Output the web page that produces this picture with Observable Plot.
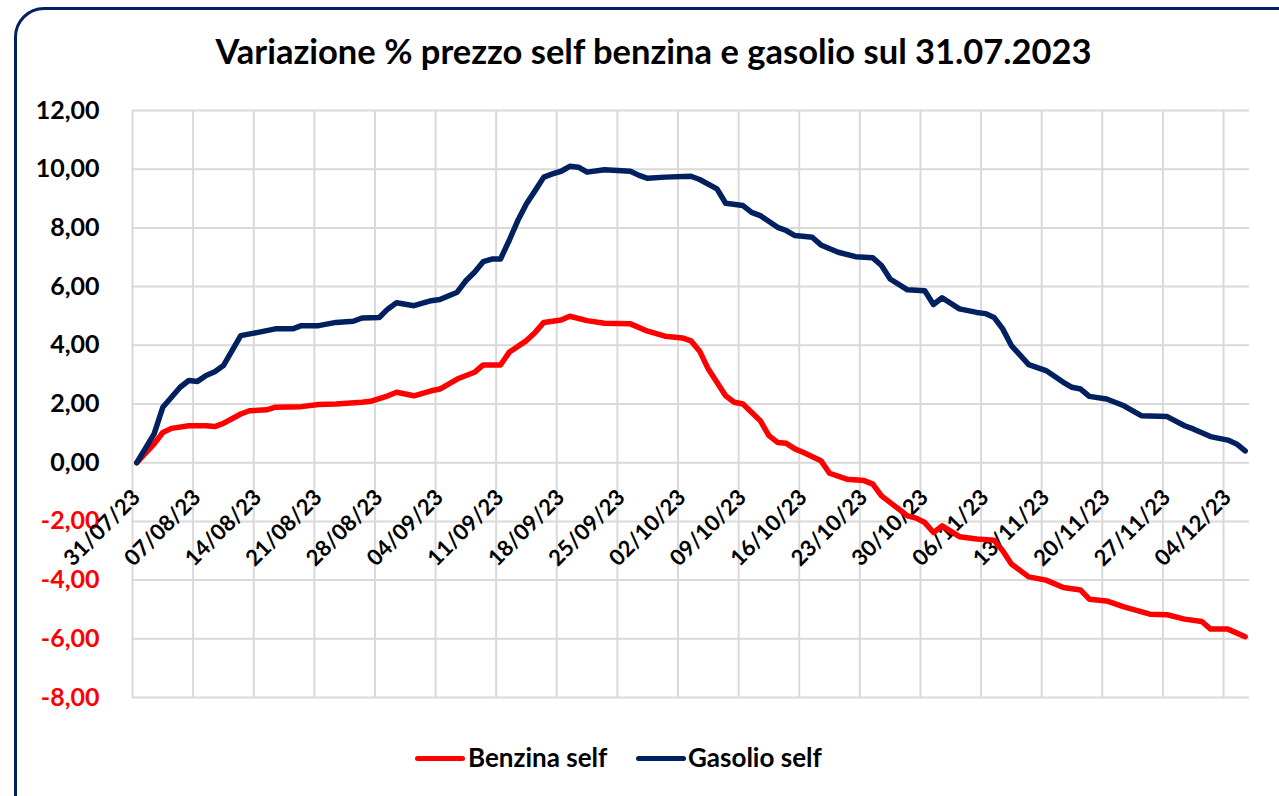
<!DOCTYPE html>
<html><head><meta charset="utf-8">
<script src="https://cdn.jsdelivr.net/npm/d3@7"></script>
<script src="https://cdn.jsdelivr.net/npm/@observablehq/plot@0.6"></script>
<style>
html,body{margin:0;padding:0;overflow:hidden;background:#fff;width:1279px;height:796px;font-family:Lato,"Open Sans",sans-serif;}
#frame{position:absolute;left:14px;top:7px;width:1300px;height:830px;border:3px solid #002060;border-radius:30px;box-sizing:border-box;}
#title{position:absolute;left:14px;width:1279px;top:34px;line-height:1;text-align:center;font-weight:700;font-size:34.5px;color:#000;white-space:nowrap;}
#chart{position:absolute;left:0;top:90px;}
.sw{position:absolute;height:5px;width:50px;border-radius:3px;top:755.5px;}
.lt{position:absolute;top:743.6px;line-height:1;font-size:26px;font-weight:700;color:#000;white-space:nowrap;}
</style>
</head><body>
<div id="frame"></div>
<div id="title">Variazione % prezzo self benzina e gasolio sul 31.07.2023</div>
<div id="chart"></div>
<div class="sw" style="left:415px;background:#ff0000"></div><span class="lt" style="left:468px">Benzina self</span>
<div class="sw" style="left:636px;background:#002060"></div><span class="lt" style="left:688px">Gasolio self</span>
<script>
const gasolioDates = ["2023-07-31","2023-08-02","2023-08-03","2023-08-05","2023-08-06","2023-08-07","2023-08-08","2023-08-09","2023-08-10","2023-08-12","2023-08-14","2023-08-16","2023-08-18","2023-08-19","2023-08-21","2023-08-23","2023-08-25","2023-08-26","2023-08-28","2023-08-29","2023-08-30","2023-09-01","2023-09-03","2023-09-04","2023-09-06","2023-09-07","2023-09-08","2023-09-09","2023-09-10","2023-09-11","2023-09-12","2023-09-13","2023-09-14","2023-09-15","2023-09-16","2023-09-17","2023-09-18","2023-09-19","2023-09-20","2023-09-21","2023-09-23","2023-09-26","2023-09-27","2023-09-28","2023-09-30","2023-10-03","2023-10-04","2023-10-06","2023-10-07","2023-10-09","2023-10-10","2023-10-11","2023-10-13","2023-10-14","2023-10-15","2023-10-17","2023-10-18","2023-10-20","2023-10-22","2023-10-24","2023-10-25","2023-10-26","2023-10-28","2023-10-30","2023-10-31","2023-11-01","2023-11-03","2023-11-05","2023-11-06","2023-11-07","2023-11-08","2023-11-09","2023-11-11","2023-11-13","2023-11-15","2023-11-16","2023-11-17","2023-11-18","2023-11-20","2023-11-22","2023-11-24","2023-11-27","2023-11-29","2023-11-30","2023-12-02","2023-12-04","2023-12-05","2023-12-06"];
const gasolioValues = [0,0.98,1.89,2.57,2.80,2.77,2.97,3.10,3.31,4.33,4.44,4.56,4.56,4.67,4.67,4.78,4.82,4.93,4.95,5.24,5.45,5.35,5.52,5.56,5.81,6.20,6.49,6.85,6.94,6.94,7.57,8.25,8.82,9.27,9.73,9.84,9.93,10.10,10.07,9.90,9.98,9.93,9.79,9.69,9.73,9.76,9.65,9.33,8.84,8.76,8.53,8.42,8.02,7.91,7.74,7.68,7.42,7.17,7.02,6.98,6.72,6.26,5.89,5.86,5.39,5.62,5.24,5.12,5.08,4.95,4.56,3.99,3.34,3.14,2.74,2.57,2.51,2.26,2.17,1.94,1.60,1.57,1.26,1.15,0.89,0.77,0.64,0.40];
const benzinaDates = ["2023-07-31","2023-08-02","2023-08-03","2023-08-04","2023-08-06","2023-08-08","2023-08-09","2023-08-10","2023-08-12","2023-08-13","2023-08-15","2023-08-16","2023-08-19","2023-08-21","2023-08-23","2023-08-26","2023-08-27","2023-08-29","2023-08-30","2023-09-01","2023-09-03","2023-09-04","2023-09-06","2023-09-08","2023-09-09","2023-09-11","2023-09-12","2023-09-14","2023-09-15","2023-09-16","2023-09-18","2023-09-19","2023-09-21","2023-09-23","2023-09-26","2023-09-28","2023-09-30","2023-10-02","2023-10-03","2023-10-04","2023-10-05","2023-10-07","2023-10-08","2023-10-09","2023-10-11","2023-10-12","2023-10-13","2023-10-14","2023-10-15","2023-10-16","2023-10-18","2023-10-19","2023-10-21","2023-10-23","2023-10-24","2023-10-25","2023-10-27","2023-10-28","2023-10-29","2023-10-30","2023-10-31","2023-11-01","2023-11-03","2023-11-05","2023-11-07","2023-11-08","2023-11-09","2023-11-11","2023-11-13","2023-11-15","2023-11-17","2023-11-18","2023-11-20","2023-11-22","2023-11-25","2023-11-27","2023-11-29","2023-12-01","2023-12-02","2023-12-04","2023-12-06"];
const benzinaValues = [0,0.64,1.03,1.17,1.26,1.26,1.23,1.34,1.66,1.77,1.80,1.89,1.91,1.98,2.00,2.06,2.09,2.28,2.40,2.28,2.45,2.51,2.85,3.08,3.33,3.33,3.76,4.16,4.44,4.78,4.86,4.99,4.84,4.75,4.73,4.48,4.31,4.25,4.15,3.80,3.19,2.28,2.06,2.00,1.43,0.92,0.69,0.66,0.47,0.35,0.07,-0.36,-0.56,-0.61,-0.73,-1.13,-1.58,-1.81,-1.89,-2.04,-2.38,-2.15,-2.52,-2.60,-2.64,-3.00,-3.45,-3.89,-4.00,-4.25,-4.34,-4.65,-4.71,-4.91,-5.16,-5.18,-5.33,-5.41,-5.67,-5.67,-5.93];
const xTickDates = ["2023-07-31","2023-08-07","2023-08-14","2023-08-21","2023-08-28","2023-09-04","2023-09-11","2023-09-18","2023-09-25","2023-10-02","2023-10-09","2023-10-16","2023-10-23","2023-10-30","2023-11-06","2023-11-13","2023-11-20","2023-11-27","2023-12-04"];
const xTickLabels = ["31/07/23","07/08/23","14/08/23","21/08/23","28/08/23","04/09/23","11/09/23","18/09/23","25/09/23","02/10/23","09/10/23","16/10/23","23/10/23","30/10/23","06/11/23","13/11/23","20/11/23","27/11/23","04/12/23"];
const yTicks = [-8,-6,-4,-2,0,2,4,6,8,10,12];
const xDomain = ["2023-07-31","2023-12-07"];

const day = s => new Date(s + "T00:00:00Z");
const mid = s => new Date(s + "T12:00:00Z");
const fmt = v => v.toFixed(2).replace(".", ",");
const benzina = benzinaDates.map((d, i) => ({date: mid(d), v: benzinaValues[i]}));
const gasolio = gasolioDates.map((d, i) => ({date: mid(d), v: gasolioValues[i]}));
const x0 = day(xDomain[0]);
const FONT = "Lato, 'Open Sans', sans-serif";

const chart = Plot.plot({
  width: 1279, height: 630,
  marginLeft: 132, marginRight: 30, marginTop: 20, marginBottom: 23,
  style: {fontFamily: FONT, fontWeight: "bold", background: "transparent", overflow: "visible"},
  x: {type: "utc", domain: xDomain.map(day), axis: null},
  y: {domain: [-8, 12], axis: null},
  marks: [
    Plot.gridX(xTickDates.map(day), {stroke: "#d9d9d9", strokeOpacity: 1, strokeWidth: 2}),
    Plot.gridY(yTicks, {stroke: "#d9d9d9", strokeOpacity: 1, strokeWidth: 2}),
    Plot.text(yTicks.filter(t => t >= 0), {x: () => x0, y: d => d, text: fmt, textAnchor: "end", dx: -33, fontSize: 25, fill: "#000"}),
    Plot.text(yTicks.filter(t => t < 0), {x: () => x0, y: d => d, text: fmt, textAnchor: "end", dx: -33, fontSize: 25, fill: "#ff0000"}),
    Plot.text(xTickLabels, {x: (d, i) => day(xTickDates[i]), y: () => 0, text: d => d, rotate: -45, textAnchor: "end", lineAnchor: "middle", dx: 4, dy: 31, fontSize: 22, fill: "#000"}),
    Plot.line(benzina, {x: "date", y: "v", stroke: "#ff0000", strokeWidth: 5.5, strokeLinejoin: "round", strokeLinecap: "round"}),
    Plot.line(gasolio, {x: "date", y: "v", stroke: "#002060", strokeWidth: 5.5, strokeLinejoin: "round", strokeLinecap: "round"})
  ]
});
document.getElementById("chart").appendChild(chart);
</script>
</body></html>
